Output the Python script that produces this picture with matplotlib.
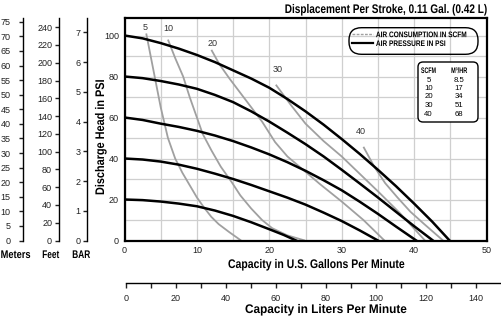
import matplotlib
matplotlib.use('Agg')
import matplotlib.pyplot as plt
from matplotlib.font_manager import FontProperties
from matplotlib.patheffects import AbstractPathEffect
import matplotlib.transforms as mtransforms
from matplotlib.patches import FancyBboxPatch
from matplotlib.lines import Line2D
import numpy as np

# pressure curves, head in PSI vs capacity in gpm
p100_q = [0, 2.5, 5, 7.5, 10, 12.5, 15, 17.5, 20, 22.5, 25, 27.5, 30, 32.5, 35, 37.5, 40, 42.5, 44.9]
p100_h = [100, 98.6, 96.3, 93.6, 90.5, 87, 83, 79, 74.5, 69, 63, 56.5, 49.5, 42.2, 34.5, 26.5, 18, 9.2, 0]
p80_q = [0, 2.5, 5, 7.5, 10, 12.5, 15, 17.5, 20, 22.5, 25, 27.5, 30, 32.5, 35, 37.5, 40, 42.6]
p80_h = [80, 79.2, 77.8, 76.1, 74, 71, 67.5, 63, 58, 52.6, 47, 41, 34.5, 27.8, 21, 14, 7, 0]
p60_q = [0, 2.5, 5, 7.5, 10, 12.5, 15, 17.5, 20, 22.5, 25, 27.5, 30, 32.5, 35, 37.5, 40.3]
p60_h = [60, 58.8, 57, 55.4, 53.5, 51.2, 48.5, 45.4, 42, 38.2, 34, 29.4, 24.5, 18.9, 13, 6.8, 0]
p40_q = [0, 2.5, 5, 7.5, 10, 12.5, 15, 17.5, 20, 22.5, 25, 27.5, 30, 32.5, 35]
p40_h = [40, 39.5, 38.5, 37, 35, 32.6, 30, 27.1, 24, 20.9, 17.5, 13.6, 9.5, 4.9, 0]
p20_q = [0, 2.5, 5, 7.5, 10, 12.5, 15, 17.5, 20, 22, 23.7]
p20_h = [20, 19.7, 19, 18, 16.7, 14.6, 12, 8.9, 5.5, 2.7, 0]

# air consumption curves (SCFM)
a5_q = [3, 4, 5, 6, 7, 8, 9, 10, 11, 12, 13, 14.5, 16.1]
a5_h = [101, 83, 65, 50, 40, 33, 27, 21, 16, 11.5, 8, 4, 0]
a10_q = [6, 7, 8.1, 9, 9.9, 10.8, 12, 13.3, 14.8, 16, 17.5, 19, 20.4, 22.5, 24.9]
a10_h = [98, 89, 80, 70, 61, 52, 44, 36, 28.5, 22, 15.6, 10, 6, 2.5, 0]
a20_q = [12, 13.1, 14.5, 16, 17.5, 19, 20.8, 22.5, 24.5, 27, 30, 33, 35.9]
a20_h = [93, 86, 79, 72, 65, 58, 48, 41, 35, 27.5, 19, 10, 0]
a30_q = [20.9, 23, 25, 27.5, 30, 32.5, 35, 38, 41.5]
a30_h = [76, 66, 57, 48.5, 41, 32.5, 24, 13.5, 0]
a40_q = [33, 34.5, 36, 37.7, 39.5, 41.4, 44]
a40_h = [45.7, 36, 28, 21, 14, 8, 0]

scfm_names = ['5', '10', '20', '30', '40']
scfm_lab_q = [2.9, 6.1, 12.1, 21.2, 32.6]
scfm_lab_h = [104, 103.4, 96.2, 83.2, 53]

table_scfm = ['5', '10', '20', '30', '40']
table_m3hr = ['8.5', '17', '34', '51', '68']

W, H = 501., 324.
fig = plt.figure(figsize=(W / 100, H / 100), dpi=100)
renderer = fig.canvas.get_renderer()
px = mtransforms.Affine2D().scale(1 / W, -1 / H).translate(0, 1) + fig.transFigure

REG = ['Liberation Sans', 'DejaVu Sans']


def bold(size):
    return FontProperties(family=REG, weight='bold', size=size)


class Squash(AbstractPathEffect):
    # narrow the glyphs along the text direction (condensed look)
    def __init__(self, sx, anchor='center'):
        super().__init__()
        self.sx, self.anchor = sx, anchor

    def draw_path(self, renderer, gc, tpath, affine, rgbFace=None):
        ext = tpath.get_extents()
        cx = {'left': ext.x0, 'right': ext.x1}.get(self.anchor, (ext.x0 + ext.x1) / 2)
        sq = mtransforms.Affine2D().translate(-cx, 0).scale(self.sx, 1).translate(cx, 0)
        renderer.draw_path(gc, tpath, sq + affine, rgbFace)


def squash(t, target, anchor='center', sx=None):
    if sx is None:
        bb = t.get_window_extent(renderer)
        sx = target / max(bb.width, bb.height)
    t.set_path_effects([Squash(sx, anchor)])
    return sx


def fx(x): return x / W
def fy(y): return 1 - y / H


top, bot = 17.5, 240.5
psi_top = (bot - top) / 2.05

ax = fig.add_axes([fx(124.5), fy(bot), (486.5 - 124.5) / W, (bot - top) / H])
ax.set_xlim(0, 50)
ax.set_ylim(0, psi_top)
ax.set_xticks(np.arange(0, 51, 10))
ax.set_xticks(np.arange(5, 50, 10), minor=True)
ax.set_yticks(np.arange(0, 101, 20))
ax.set_yticks(np.arange(10, 101, 20), minor=True)
ax.grid(which='both', color='#cfcfcf', lw=0.9)
ax.set_axisbelow(True)
ax.tick_params(which='both', length=0, labelsize=6.5, colors='#222222', pad=4)
for lab in ax.get_xticklabels() + ax.get_yticklabels():
    lab.set_family(REG)
for s in ax.spines.values():
    s.set_linewidth(1.6)

gray = '#a0a0a0'
for q, h in [(a5_q, a5_h), (a10_q, a10_h), (a20_q, a20_h), (a30_q, a30_h), (a40_q, a40_h)]:
    ax.plot(q, h, color=gray, lw=1.3, solid_capstyle='butt')
for q, h in [(p100_q, p100_h), (p80_q, p80_h), (p60_q, p60_h), (p40_q, p40_h), (p20_q, p20_h)]:
    ax.plot(q, h, color='black', lw=1.8)
for n, q, h in zip(scfm_names, scfm_lab_q, scfm_lab_h):
    ax.text(q, h, n, fontsize=6.5, color='#333333', ha='center', va='center', family=REG)

ax.set_xlabel('Capacity in U.S. Gallons Per Minute', fontproperties=bold(9))
ax.xaxis.set_label_coords((316.5 - 124.5) / 362, -(265 - bot) / (bot - top))
ax.xaxis.label.set_va('center')
squash(ax.xaxis.label, 177)
ax.set_ylabel('Discharge Head in PSI', fontproperties=bold(9))
ax.yaxis.set_label_coords(-(124.5 - 101) / 362, (bot - 137) / (bot - top))
ax.yaxis.label.set_va('center')
squash(ax.yaxis.label, 116)

leg = ax.legend(handles=[Line2D([], [], color=gray, ls=(0, (2, 1)), lw=1),
                         Line2D([], [], color='black', lw=1.6)],
                labels=['AIR CONSUMPTION IN SCFM', 'AIR PRESSURE IN PSI'],
                loc='upper left', bbox_to_anchor=(352.5, 31.5), bbox_transform=px,
                borderaxespad=0, borderpad=0, handlelength=2.5, handletextpad=0.4,
                labelspacing=0.15, prop=bold(5.8), frameon=False)
lt = leg.get_texts()
sx_leg = squash(lt[0], 90, 'left')
squash(lt[1], None, 'left', sx=sx_leg)
fig.patches.append(FancyBboxPatch((349, 27.7), 129, 26.6, boxstyle='round,pad=0,rounding_size=12.5',
                                  transform=px, fc='none', ec='black', lw=1, zorder=5))

# SCFM / m3/hr table
fig.patches.append(FancyBboxPatch((418, 62), 60, 60, boxstyle='round,pad=0,rounding_size=5',
                                  transform=px, fc='white', ec='black', lw=1, zorder=5))
th1 = fig.text(428.5, 71.5, 'SCFM', transform=px, fontproperties=bold(5.8), ha='center', va='center', zorder=6)
th2 = fig.text(459, 71.5, 'M³/HR', transform=px, fontproperties=bold(5.8), ha='center', va='center', zorder=6)
squash(th1, 15)
squash(th2, 16)
for i, (s, m) in enumerate(zip(table_scfm, table_m3hr)):
    yy = 80 + 8.5 * i
    fig.text(428.5, yy, s, transform=px, fontsize=5.6, ha='center', va='center', family=REG, zorder=6)
    fig.text(459, yy, m, transform=px, fontsize=5.6, ha='center', va='center', family=REG, zorder=6)

# left unit scales
scales = [('Meters', 23.3, 0.70307, np.arange(0, 76, 5), 6.0, 0.5, 30),
          ('Feet', 59.3, 2.3067, np.arange(0, 241, 20), 2.0, 42, 17),
          ('BAR', 87, 0.0689476, np.arange(0, 8, 1), 1.3, 72, 18)]
for name, xpos, k, ticks, pad, lx, lw_ in scales:
    a = fig.add_axes([fx(xpos), fy(bot), 0.0001, (bot - top) / H])
    a.patch.set_visible(False)
    for sp in ['top', 'right', 'bottom']:
        a.spines[sp].set_visible(False)
    a.spines['left'].set_linewidth(1)
    a.set_ylim(0, psi_top * k)
    a.set_yticks(ticks)
    a.set_xticks([])
    a.tick_params(axis='y', length=3.2, width=1, pad=pad, labelsize=6.5, colors='#222222')
    for lab in a.get_yticklabels():
        lab.set_family(REG)
    t = fig.text(lx, 255, name, transform=px, fontproperties=bold(8), ha='left', va='center')
    squash(t, lw_, 'left')

# liters axis
la = fig.add_axes([fx(126), fy(283), (501 - 126) / W, 0.0001])
la.patch.set_visible(False)
for sp in ['top', 'right', 'left']:
    la.spines[sp].set_visible(False)
la.spines['bottom'].set_linewidth(1)
la.set_xlim(0, 150)
la.set_xticks(np.arange(0, 141, 20))
la.set_xticks(np.arange(10, 140, 20), minor=True)
la.set_yticks([])
la.tick_params(axis='x', which='both', length=3.6, width=1, pad=4, labelsize=6.5, colors='#222222')
for lab in la.get_xticklabels():
    lab.set_family(REG)
t = fig.text(326, 310, 'Capacity in Liters Per Minute', transform=px, fontproperties=bold(9),
             ha='center', va='center')
squash(t, 162)

t = fig.text(488, 10, 'Displacement Per Stroke, 0.11 Gal. (0.42 L)', transform=px, fontproperties=bold(9),
             ha='right', va='center')
squash(t, 203, 'right')

fig.savefig('out.png', dpi=100)
